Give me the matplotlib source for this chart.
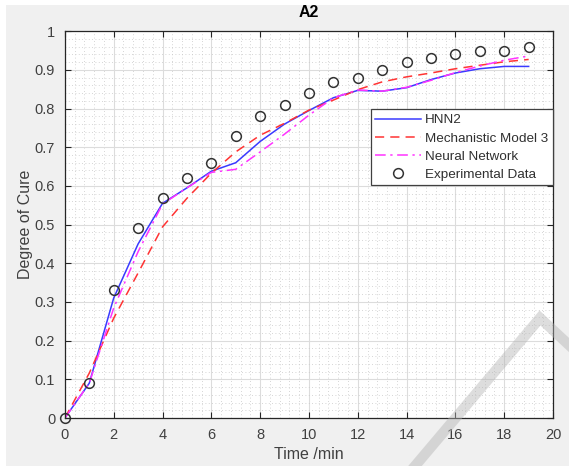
import matplotlib
matplotlib.use("Agg")
from matplotlib import pyplot as plt
from matplotlib.lines import Line2D
from matplotlib.patches import Rectangle
from matplotlib.ticker import MultipleLocator

plt.rcParams['font.family'] = ['Liberation Sans', 'DejaVu Sans']

# time in minutes
t = list(range(20))
# degree of cure per model
hnn2 = [0, 0.09, 0.31, 0.45, 0.555, 0.595, 0.638, 0.66, 0.715, 0.76, 0.795,
        0.828, 0.847, 0.845, 0.854, 0.875, 0.892, 0.903, 0.909, 0.909]
mech3 = [0, 0.116, 0.258, 0.375, 0.494, 0.568, 0.633, 0.688, 0.731, 0.762, 0.796,
         0.822, 0.849, 0.869, 0.882, 0.892, 0.903, 0.912, 0.921, 0.927]
nn = [0, 0.09, 0.284, 0.43, 0.553, 0.595, 0.635, 0.643, 0.688, 0.734, 0.783,
      0.828, 0.848, 0.845, 0.855, 0.873, 0.893, 0.91, 0.925, 0.936]
exp_data = [0, 0.09, 0.33, 0.49, 0.57, 0.62, 0.66, 0.73, 0.78, 0.81, 0.84,
            0.87, 0.88, 0.90, 0.92, 0.93, 0.94, 0.95, 0.95, 0.96]

xticks = [0, 2, 4, 6, 8, 10, 12, 14, 16, 18, 20]
yticks = [0, 0.1, 0.2, 0.3, 0.4, 0.5, 0.6, 0.7, 0.8, 0.9, 1]
ytick_labels = ["0", "0.1", "0.2", "0.3", "0.4", "0.5", "0.6", "0.7", "0.8", "0.9", "1"]

txt = '#262626'
fig = plt.figure(figsize=(5.69, 4.66), dpi=100, facecolor='white')
# grey figure panel with a thin white border top and left
fig.patches.append(Rectangle((6 / 569, 0), 1, 1 - 5 / 466, transform=fig.transFigure,
                             facecolor='#f0f0f0', edgecolor='none', zorder=-5))
ax = fig.add_axes([0.114, 0.103, 0.858, 0.830])
ax.set_facecolor('white')

ax.plot(t, hnn2, color='#3a3aff', lw=1.1, label='HNN2')
ax.plot(t, mech3, color='#ff3333', lw=1.1, ls=(0, (6, 4)), label='Mechanistic Model 3')
ax.plot(t, nn, color='#ff33ff', lw=1.1, ls=(0, (7, 3, 1.5, 3)), label='Neural Network')
ax.plot(t, exp_data, 'o', mfc='none', mec='#333333', ms=7, mew=1.1,
        label='Experimental Data', clip_on=False)

ax.set_xlim(0, 20)
ax.set_ylim(0, 1)
ax.set_xticks(xticks)
ax.set_yticks(yticks)
ax.set_yticklabels(ytick_labels)
ax.xaxis.set_minor_locator(MultipleLocator(0.4))
ax.yaxis.set_minor_locator(MultipleLocator(0.02))
ax.grid(True, which='major', color='#dcdcdc', lw=0.8)
ax.grid(True, which='minor', color='#c8c8c8', lw=0.6, ls=(0, (1, 3)))
ax.set_axisbelow(True)
ax.tick_params(which='major', direction='in', length=4, top=True, right=True,
               color=txt, labelsize=10.5, labelcolor='#404040')
ax.tick_params(axis='x', pad=7)
ax.tick_params(axis='y', pad=7)
ax.tick_params(which='minor', length=0)
for s in ax.spines.values():
    s.set_color(txt)
    s.set_linewidth(0.9)

ax.set_title('A2', fontsize=11.5, fontweight='bold', color='black', pad=10)
ax.set_xlabel('Time /min', fontsize=11.5, color='#404040', labelpad=4)
ax.set_ylabel('Degree of Cure', fontsize=11.5, color='#404040', labelpad=1)

leg = ax.legend(loc='upper right', bbox_to_anchor=(1.0, 0.798), borderaxespad=0,
                fontsize=9.7, fancybox=False, framealpha=1, edgecolor='#404040',
                handlelength=3.4, labelspacing=0.42, handletextpad=0.3,
                borderpad=0.35)
leg.get_frame().set_linewidth(0.9)
for tx in leg.get_texts():
    tx.set_color('#303030')

# faint diagonal stroke across the lower right
fig.add_artist(Line2D([415 / 569, 540 / 569, 569 / 569],
                      [0, 1 - 318 / 466, 1 - 345 / 466],
                      transform=fig.transFigure, color='#b4b4b4', lw=7.5,
                      alpha=0.45, solid_joinstyle='miter', zorder=10))

plt.savefig('out.png', dpi=100, facecolor=fig.get_facecolor())
